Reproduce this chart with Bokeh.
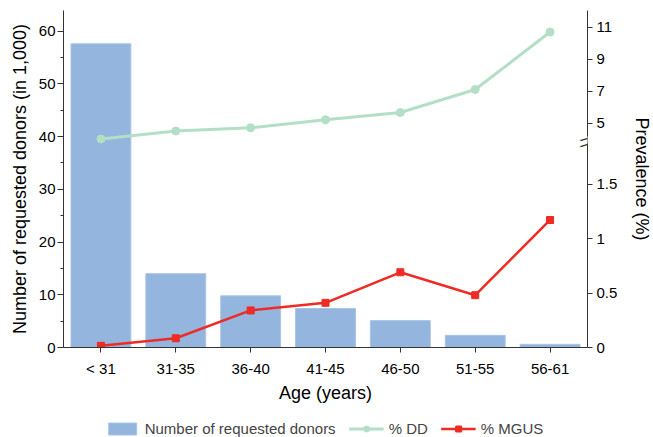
from bokeh.plotting import figure
from bokeh.layouts import column
from bokeh.models import (Range1d, FactorRange, LinearAxis, FixedTicker, SingleIntervalTicker,
                          CustomJSTickFormatter, Legend, LegendItem, Label)
from bokeh.embed import file_html
from bokeh.resources import INLINE

# ---- data ----
ages = ["< 31", "31-35", "36-40", "41-45", "46-50", "51-55", "56-61"]
donors = [57.6, 14.0, 9.8, 7.4, 5.1, 2.3, 0.6]          # in 1,000
dd_pct = [4.0, 4.5, 4.7, 5.2, 5.66, 7.1, 10.7]          # % DD (upper scale)
mgus_pct = [0.015, 0.085, 0.34, 0.41, 0.69, 0.48, 1.17]  # % MGUS (lower scale)
lower_ticks = [0, 0.5, 1, 1.5]
upper_ticks = [5, 7, 9, 11]
series_names = ["Number of requested donors", "% DD", "% MGUS"]

# ---- broken right axis geometry ----
LOW_MAX = 3.092
UP_BASE = 2.0596   # where "5" sits on the lower scale
UP_K = 0.14648     # lower-scale units per upper unit
BREAK_AT = 1.905


def to_axis(v):
    return UP_BASE + (v - 5) * UP_K


FONT = "Liberation Sans"
BAR = "#94b5de"
BAR_EDGE = "#a9c4e6"
DD = "#b3dfc7"
MG = "#ee2b25"
AX = "#333333"

p = figure(x_range=FactorRange(factors=ages), y_range=Range1d(0, 63.92),
           frame_width=524, frame_height=337, output_backend="svg", toolbar_location=None,
           min_border_left=63, min_border_right=66, min_border_top=10, min_border_bottom=60)
p.outline_line_color = None
p.xgrid.grid_line_color = None
p.ygrid.grid_line_color = None
p.background_fill_color = "white"

p.extra_y_ranges = {"prev": Range1d(0, LOW_MAX)}

# left axis
ya = p.yaxis[0]
ya.ticker = SingleIntervalTicker(interval=10, num_minor_ticks=2)
ya.axis_label = "Number of requested donors (in 1,000)"
ya.major_tick_out = 6
ya.major_tick_in = 0
ya.minor_tick_out = 3
ya.minor_tick_in = 0
ya.major_label_standoff = 2
ya.axis_label_standoff = 6

# bottom axis
xa = p.xaxis[0]
xa.axis_label = "Age (years)"
xa.major_tick_out = 5
xa.major_tick_in = 0
xa.major_label_standoff = 7
xa.axis_label_standoff = 3

# right axis (broken)
ra = LinearAxis(y_range_name="prev",
                ticker=FixedTicker(ticks=lower_ticks + [to_axis(v) for v in upper_ticks], minor_ticks=[]),
                formatter=CustomJSTickFormatter(args=dict(base=UP_BASE, k=UP_K), code="""
                    if (tick > 1.9) { return String(Math.round((tick - base) / k + 5)); }
                    return String(Math.round(tick * 10) / 10);
                """),
                axis_label="Prevalence (%)")
ra.major_tick_out = 5
ra.major_tick_in = 0
ra.major_label_standoff = 4
ra.axis_label_standoff = 12
p.add_layout(ra, "right")

for ax in (xa, ya, ra):
    ax.axis_line_color = AX
    ax.major_tick_line_color = AX
    ax.minor_tick_line_color = AX
    ax.major_label_text_font = FONT
    ax.major_label_text_font_size = "15px"
    ax.major_label_text_color = "black"
    ax.axis_label_text_font = FONT
    ax.axis_label_text_font_size = "18px"
    ax.axis_label_text_font_style = "normal"
    ax.axis_label_text_color = "black"

# glyphs
p.vbar(x=ages, top=donors, width=0.8, fill_color=BAR, line_color=BAR_EDGE, line_width=1)
dd_y = [to_axis(v) for v in dd_pct]
p.line(ages, dd_y, y_range_name="prev", line_color=DD, line_width=3)
p.scatter(ages, dd_y, y_range_name="prev", marker="circle", size=8, fill_color=DD, line_color=DD)
p.line(ages, mgus_pct, y_range_name="prev", line_color=MG, line_width=2.5)
p.scatter(ages, mgus_pct, y_range_name="prev", marker="square", size=7, fill_color=MG, line_color=MG)

# axis break marks
p.add_layout(Label(x=7, y=BREAK_AT, y_range_name="prev", text="\u2588", text_color="white",
                   text_font="DejaVu Sans", text_font_size="6px",
                   text_align="center", text_baseline="middle"))
for off in (-3, 3):
    p.add_layout(Label(x=7, y=BREAK_AT, y_range_name="prev", text="\u2014", text_color=AX,
                       text_font=FONT, text_font_size="16px", angle=0.29,
                       text_align="center", text_baseline="middle", y_offset=off))

# ---- legend strip: same series drawn off-range so only their legend glyphs show ----
lg = figure(width=653, height=30, output_backend="svg", toolbar_location=None,
            x_axis_type=None, y_axis_type=None, x_range=FactorRange(factors=ages),
            y_range=Range1d(1000, 1001), min_border=0)
lg.outline_line_color = None
lg.background_fill_color = "white"
lg.xgrid.grid_line_color = None
lg.ygrid.grid_line_color = None
r_bar = lg.vbar(x=ages, top=donors, width=0.8, fill_color=BAR, line_color=BAR_EDGE)
r_ddl = lg.line(ages, dd_pct, line_color=DD, line_width=3)
r_ddp = lg.scatter(ages, dd_pct, marker="circle", size=8, fill_color=DD, line_color=DD)
r_mgl = lg.line(ages, mgus_pct, line_color=MG, line_width=2.5)
r_mgp = lg.scatter(ages, mgus_pct, marker="square", size=7, fill_color=MG, line_color=MG)

legend = Legend(items=[
    LegendItem(label=series_names[0], renderers=[r_bar]),
    LegendItem(label=series_names[1], renderers=[r_ddl, r_ddp]),
    LegendItem(label=series_names[2], renderers=[r_mgl, r_mgp]),
], orientation="horizontal", location="bottom_center")
legend.label_text_font = FONT
legend.label_text_font_size = "15px"
legend.label_height = 17
legend.glyph_height = 15
legend.glyph_width = 35
legend.label_standoff = 5
legend.spacing = 13
legend.padding = 1
legend.margin = 0
legend.border_line_color = None
legend.background_fill_alpha = 0
lg.add_layout(legend, "center")

layout = column(p, lg, spacing=0)
open("out.html", "w").write(file_html(layout, INLINE))
